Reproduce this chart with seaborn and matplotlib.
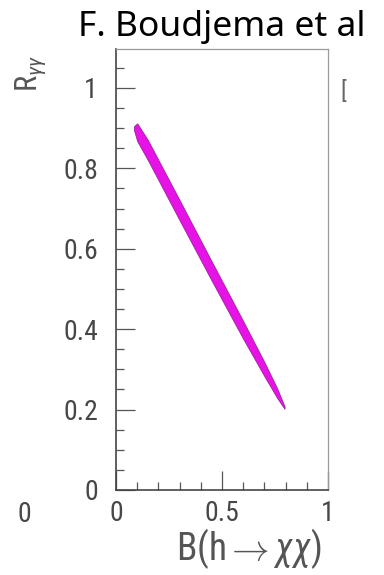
import numpy as np
import pandas as pd
import matplotlib
matplotlib.use("Agg")
import matplotlib.pyplot as plt
from matplotlib import font_manager
from matplotlib.ticker import MultipleLocator, FixedLocator
import seaborn as sns

# Allowed region in the (B, R_gamma-gamma) plane
branching = [0.085, 0.10, 0.15, 0.30, 0.45, 0.60, 0.70, 0.76, 0.795]
r_upper = [0.905, 0.912, 0.871, 0.721, 0.570, 0.420, 0.318, 0.253, 0.208]
r_lower = [0.895, 0.868, 0.821, 0.671, 0.522, 0.376, 0.283, 0.229, 0.202]

x_ticks = [0, 0.5, 1]
x_tick_labels = ["0", "0.5", "1"]
y_ticks = [0, 0.2, 0.4, 0.6, 0.8, 1.0]
y_tick_labels = ["0", "0.2", "0.4", "0.6", "0.8", "1"]

band = pd.DataFrame({"B": branching, "upper": r_upper, "lower": r_lower})

sns.set_theme(style="ticks")

available = {f.name for f in font_manager.fontManager.ttflist}
narrow = "DejaVu Sans"
for cand in ["Liberation Sans Narrow", "DejaVu Sans Condensed", "Roboto Condensed", "Open Sans Condensed"]:
    if cand in available:
        narrow = cand
        break
plt.rcParams["font.family"] = [narrow, "DejaVu Sans"]
plt.rcParams["mathtext.fontset"] = "custom"
plt.rcParams["mathtext.rm"] = narrow
plt.rcParams["mathtext.it"] = narrow + ":italic"
plt.rcParams["mathtext.sf"] = narrow

grey = "#474747"
fig = plt.figure(figsize=(3.84, 5.75), dpi=100)
ax = fig.add_axes([116 / 384, 1 - 490 / 575, 212 / 384, 441 / 575])

ax.fill_between(band["B"], band["lower"], band["upper"],
                color="#e612e6", edgecolor="#a0209f", linewidth=0.6, zorder=3)

ax.set_xlim(0, 1)
ax.set_ylim(0, 1.097)
ax.xaxis.set_major_locator(FixedLocator(x_ticks))
ax.set_xticklabels(x_tick_labels)
ax.xaxis.set_minor_locator(MultipleLocator(0.1))
ax.yaxis.set_major_locator(FixedLocator(y_ticks))
ax.set_yticklabels(y_tick_labels)
ax.yaxis.set_minor_locator(MultipleLocator(0.05))

ax.tick_params(which="both", direction="in", colors="#555555", labelcolor=grey,
               top=False, right=False, width=0.9)
ax.tick_params(which="major", length=14, labelsize=20)
ax.tick_params(axis="y", which="major", pad=13)
ax.tick_params(axis="x", which="major", pad=7)
ax.tick_params(which="minor", length=6)

for side in ["left", "bottom"]:
    ax.spines[side].set_color("#444444")
    ax.spines[side].set_linewidth(1.2)
for side in ["top", "right"]:
    ax.spines[side].set_visible(True)
    ax.spines[side].set_color("#9a9a9a")
    ax.spines[side].set_linewidth(0.9)

fig.text(222 / 384, 1 - 27 / 575, "F. Boudjema et al", ha="center", va="center",
         fontsize=25.5, color="black", family=["Noto Sans", "DejaVu Sans"])
fig.text(31 / 384, 1 - 73 / 575, r"R$_{\gamma\gamma}$", rotation=90,
         ha="center", va="center", fontsize=22, color="#555555")
fig.text(249 / 384, 1 - 549 / 575, r"B(h$\rightarrow$$\mathit{\chi\chi}$)",
         ha="center", va="center", fontsize=27, color="#555555")
fig.text(24 / 384, 1 - 515 / 575, "0", ha="center", va="center",
         fontsize=20, color=grey)
fig.text(343 / 384, 1 - 91 / 575, "[", ha="center", va="center",
         fontsize=17, color="#666666")

fig.savefig("out.png", dpi=100)
